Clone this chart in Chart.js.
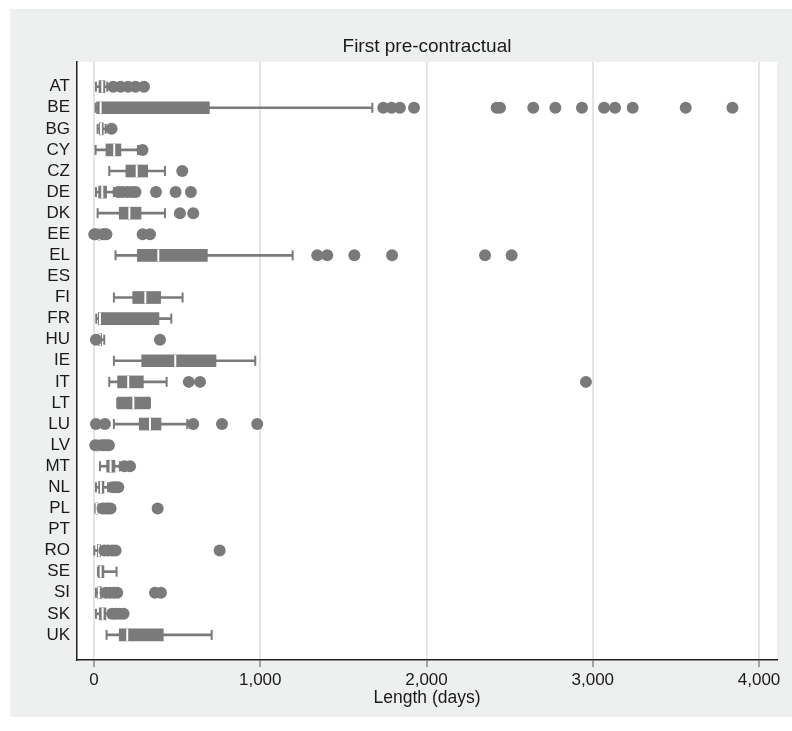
<!DOCTYPE html>
<html>
<head>
<meta charset="utf-8">
<title>First pre-contractual</title>
<script src="https://cdn.jsdelivr.net/npm/chart.js@4.4.1/dist/chart.umd.min.js"></script>
<style>
  html, body { margin: 0; padding: 0; background: #fff; }
  canvas { display: block; }
</style>
</head>
<body>
<canvas id="box-chart" width="792" height="731"></canvas>
<script>
const categories = ['AT', 'BE', 'BG', 'CY', 'CZ', 'DE', 'DK', 'EE', 'EL', 'ES', 'FI', 'FR', 'HU', 'IE',
  'IT', 'LT', 'LU', 'LV', 'MT', 'NL', 'PL', 'PT', 'RO', 'SE', 'SI', 'SK', 'UK'];

// lower adjacent value, quartiles, median, upper adjacent value (days); null = no data
const whiskerLow = [12, 10, 22, 10, 92, 12, 22, 22, 130, null, 120, 14, 22, 120,
  92, 140, 120, 14, 36, 12, 8, null, 2, 24, 12, 12, 76];
const boxLow = [30, 16, 32, 72, 192, 28, 152, 26, 261, null, 233, 26, 28, 287,
  142, 140, 273, 18, 76, 28, 12, null, 20, 26, 22, 32, 152];
const medians = [50, 40, 42, 122, 257, 50, 213, 32, 387, null, 309, 36, 36, 489,
  206, 237, 337, 22, 100, 42, 16, null, 30, 40, 30, 52, 200];
const boxHigh = [66, 694, 56, 162, 323, 76, 283, 38, 682, null, 401, 391, 46, 734,
  297, 337, 403, 28, 126, 60, 22, null, 40, 60, 44, 72, 417];
const whiskerHigh = [80, 1674, 70, 265, 427, 120, 427, 48, 1195, null, 533, 465, 62, 970,
  437, 337, 561, 36, 156, 85, 32, null, 55, 136, 60, 90, 708];

const outliers = [
  [116, 160, 205, 250, 301],
  [1740, 1790, 1840, 1925, 2422, 2442, 2642, 2775, 2935, 3068, 3134, 3240, 3559, 3840],
  [106],
  [292],
  [531],
  [146, 170, 200, 226, 250, 373, 491, 583],
  [517, 597],
  [2, 10, 55, 65, 75, 293, 337],
  [1343, 1403, 1566, 1793, 2352, 2512],
  [],
  [],
  [],
  [12, 397],
  [],
  [570, 638, 2959],
  [],
  [12, 66, 597, 770, 982],
  [8, 45, 60, 75, 90],
  [183, 217],
  [112, 130, 146],
  [52, 70, 85, 100, 383],
  [],
  [62, 85, 110, 130, 756],
  [],
  [70, 95, 120, 140, 367, 403],
  [110, 130, 155, 178],
  []
];

const xTicks = [0, 1000, 2000, 3000, 4000];

const GREY = '#7a7a7a';
const FONT = '"Liberation Sans", Arial, sans-serif';

document.addEventListener('DOMContentLoaded', () => {
  initChart();
});

function initChart() {
  const rows = categories.map((_, i) => i).filter((i) => medians[i] !== null);

  const whiskers = rows.map((i) => ({ x: [whiskerLow[i], whiskerHigh[i]], y: i }));
  const boxes = rows.map((i) => ({ x: [boxLow[i], boxHigh[i]], y: i }));
  const caps = rows.flatMap((i) => [{ x: whiskerLow[i], y: i }, { x: whiskerHigh[i], y: i }]);
  const mids = rows.map((i) => ({ x: medians[i], y: i }));
  const dots = outliers.flatMap((list, i) => list.map((v) => ({ x: v, y: i })));

  const background = {
    id: 'background',
    beforeDraw(chart) {
      const { ctx, chartArea: a } = chart;
      ctx.save();
      ctx.fillStyle = '#ffffff';
      ctx.fillRect(0, 0, chart.width, chart.height);
      ctx.fillStyle = '#eef0ef';
      ctx.fillRect(10, 9, chart.width - 10, 708);
      ctx.fillStyle = '#ffffff';
      ctx.fillRect(a.left, a.top, a.right - a.left, a.bottom - a.top);
      ctx.restore();
    }
  };

  // title centred over the plot region, as in the original
  const plotTitle = {
    id: 'plotTitle',
    afterDraw(chart) {
      const { ctx, chartArea: a } = chart;
      ctx.save();
      ctx.fillStyle = '#1a1a1a';
      ctx.font = `19px ${FONT}`;
      ctx.textAlign = 'center';
      ctx.textBaseline = 'middle';
      ctx.fillText('First pre-contractual', (a.left + a.right) / 2, 47);
      ctx.restore();
    }
  };

  new Chart(document.getElementById('box-chart'), {
    type: 'bar',
    data: {
      datasets: [
        {
          type: 'scatter',
          data: dots,
          order: 1,
          pointStyle: 'circle',
          pointRadius: 6,
          pointBackgroundColor: GREY,
          pointBorderWidth: 0
        },
        {
          type: 'scatter',
          data: mids,
          order: 2,
          pointStyle: 'line',
          rotation: 90,
          pointRadius: 6,
          pointBorderColor: '#ffffff',
          pointBorderWidth: 2
        },
        {
          type: 'scatter',
          data: caps,
          order: 3,
          pointStyle: 'line',
          rotation: 90,
          pointRadius: 5,
          pointBorderColor: GREY,
          pointBorderWidth: 2
        },
        {
          type: 'bar',
          indexAxis: 'y',
          data: boxes,
          order: 4,
          grouped: false,
          barThickness: 12,
          backgroundColor: GREY,
          borderWidth: 0
        },
        {
          type: 'bar',
          indexAxis: 'y',
          data: whiskers,
          order: 5,
          grouped: false,
          barThickness: 2,
          backgroundColor: GREY,
          borderWidth: 0
        }
      ]
    },
    options: {
      responsive: false,
      animation: false,
      layout: { padding: { left: 0, top: 62, right: 15, bottom: 22 } },
      plugins: {
        legend: { display: false },
        tooltip: { enabled: false }
      },
      scales: {
        x: {
          type: 'linear',
          position: 'bottom',
          offset: false,
          min: -102,
          max: 4108,
          afterBuildTicks: (scale) => { scale.ticks = xTicks.map((v) => ({ value: v })); },
          afterFit: (scale) => { scale.height = 49; },
          grid: {
            offset: false,
            color: '#e4e4e4',
            lineWidth: 2,
            tickColor: '#8a8a8a',
            tickWidth: 1.5,
            tickLength: 7
          },
          border: { display: true, color: '#222222', width: 1.5 },
          ticks: {
            color: '#1a1a1a',
            font: { family: FONT, size: 17 },
            padding: 3,
            maxRotation: 0,
            callback: (v) => v.toLocaleString('en-US')
          },
          title: {
            display: true,
            text: 'Length (days)',
            color: '#1a1a1a',
            font: { family: FONT, size: 17.5 },
            padding: { top: 0, bottom: 0 }
          }
        },
        y: {
          type: 'linear',
          reverse: true,
          offset: false,
          min: -1.17,
          max: 27.19,
          afterBuildTicks: (scale) => { scale.ticks = categories.map((_, i) => ({ value: i })); },
          afterFit: (scale) => { scale.width = 77; },
          grid: { display: false, drawTicks: false, offset: false },
          border: { display: true, color: '#222222', width: 1.5 },
          ticks: {
            color: '#1a1a1a',
            font: { family: FONT, size: 17 },
            padding: 7,
            autoSkip: false,
            callback: (v) => categories[v] || ''
          }
        }
      }
    },
    plugins: [background, plotTitle]
  });
}
</script>
</body>
</html>
